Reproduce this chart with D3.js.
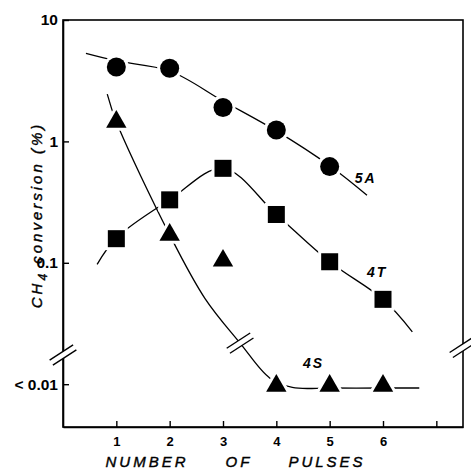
<!DOCTYPE html>
<html>
<head>
<meta charset="utf-8">
<script src="https://cdn.jsdelivr.net/npm/d3@7"></script>
<style>
body { margin: 0; background: #fff; }
svg { display: block; font-family: "Liberation Sans", Arial, sans-serif; }
</style>
</head>
<body>
<svg width="471" height="470"></svg>
<script>
// Measured points, by number of pulses.
var pulses = [1, 2, 3, 4, 5, 6];
var conv5A = [4.1, 4.0, 1.9, 1.24, 0.62];
var conv4T = [0.158, 0.33, 0.6, 0.25, 0.102, 0.05];
var conv4S = [1.45, 0.17, 0.104, 0.0097, 0.0097, 0.0097];

// Hand-drawn fit curves, [pulses, conversion].
var fit5A = [[0.43, 5.3], [1, 4.6], [2, 3.8], [3, 2.15], [4, 1.22], [5, 0.63], [5.7, 0.36]];
var fit4T = [[0.64, 0.097], [1, 0.16], [2, 0.33], [3, 0.6], [4, 0.25], [5, 0.102], [6, 0.05], [6.55, 0.027]];
var fit4S = [[0.83, 2.45], [1, 1.45], [2, 0.17], [2.66, 0.051], [3.32, 0.0218], [3.88, 0.0112], [4.3, 0.0094], [5, 0.0093], [6, 0.0093], [6.68, 0.0093]];

var seriesNames = ["5A", "4T", "4S"];

var yTicks = [10, 1, 0.1, 0.01];
var yTickLabels = ["10", "1", "0.1", "<\u00a00.01"];
var xTicks = [1, 2, 3, 4, 5, 6, 7];
var xTickLabels = ["1", "2", "3", "4", "5", "6", ""];

var svg = d3.select("svg");

var x = d3.scaleLinear().domain([0, 7.5]).range([63, 463]);
var y = d3.scaleLog().domain([0.00444, 10]).range([427, 20]);

// Frame.
svg.append("rect")
    .attr("x", x(0))
    .attr("y", y(10))
    .attr("width", x(7.5) - x(0))
    .attr("height", y(0.00444) - y(10))
    .attr("fill", "none")
    .attr("stroke", "#000")
    .attr("stroke-width", 1.6);

var yAxis = d3.axisLeft(y)
    .tickValues(yTicks)
    .tickFormat(function(d, i) { return yTickLabels[i]; })
    .tickSizeInner(-6)
    .tickSizeOuter(0)
    .tickPadding(5);

var yg = svg.append("g")
    .attr("transform", "translate(" + x(0) + ",0)")
    .call(yAxis);

var xAxis = d3.axisBottom(x)
    .tickValues(xTicks)
    .tickFormat(function(d, i) { return xTickLabels[i]; })
    .tickSizeInner(-6)
    .tickSizeOuter(0)
    .tickPadding(10);

var xg = svg.append("g")
    .attr("transform", "translate(0," + y(0.00444) + ")")
    .call(xAxis);

[yg, xg].forEach(function(g) {
    g.select(".domain").attr("stroke-width", 1.6);
    g.selectAll(".tick line").attr("stroke-width", 1.4);
    g.selectAll(".tick text")
        .attr("font-weight", "bold")
        .attr("fill", "#000");
});
yg.selectAll(".tick text").attr("font-size", 15.5);
xg.selectAll(".tick text").attr("font-size", 13);

// Fit curves.
var line = d3.line()
    .x(function(d) { return x(d[0]); })
    .y(function(d) { return y(d[1]); })
    .curve(d3.curveCatmullRom.alpha(0.5));

[fit5A, fit4T, fit4S].forEach(function(fit) {
    svg.append("path")
        .attr("d", line(fit))
        .attr("fill", "none")
        .attr("stroke", "#000")
        .attr("stroke-width", 1.3);
});

// Break marks: a white gap with two slanted strokes.
function drawBreak(cx, cy) {
    var g = svg.append("g").attr("transform", "translate(" + cx + "," + cy + ") rotate(-33)");
    g.append("rect")
        .attr("x", -13).attr("y", -3)
        .attr("width", 26).attr("height", 6)
        .attr("fill", "#fff");
    [-3, 3].forEach(function(off) {
        g.append("line")
            .attr("x1", -14).attr("x2", 14)
            .attr("y1", off).attr("y2", off)
            .attr("stroke", "#000")
            .attr("stroke-width", 1.4);
    });
}

drawBreak(x(0), y(0.0174));
drawBreak(x(7.5), y(0.0201));
drawBreak(x(3.32), y(0.0218));

// Markers, with a white halo so the curves stop short of them.
function halo(sel) {
    return sel.attr("fill", "#000")
        .attr("stroke", "#fff")
        .attr("stroke-width", 6)
        .style("paint-order", "stroke");
}

halo(svg.append("g").selectAll("circle")
    .data(conv5A)
    .join("circle")
    .attr("cx", function(d, i) { return x(pulses[i]); })
    .attr("cy", function(d) { return y(d); })
    .attr("r", 9.5));

halo(svg.append("g").selectAll("rect")
    .data(conv4T)
    .join("rect")
    .attr("x", function(d, i) { return x(pulses[i]) - 8.5; })
    .attr("y", function(d) { return y(d) - 8.5; })
    .attr("width", 17)
    .attr("height", 17));

var tri = d3.symbol().type(d3.symbolTriangle).size(180);
halo(svg.append("g").selectAll("path")
    .data(conv4S)
    .join("path")
    .attr("d", tri)
    .attr("transform", function(d, i) {
        return "translate(" + x(pulses[i]) + "," + y(d) + ")";
    }));

// Series labels, anchored in data space.
var labelAt = { "5A": [5.47, 0.45], "4T": [5.7, 0.076], "4S": [4.5, 0.0136] };
seriesNames.forEach(function(name) {
    svg.append("text")
        .attr("x", x(labelAt[name][0]))
        .attr("y", y(labelAt[name][1]))
        .attr("font-size", 14)
        .attr("font-weight", "bold")
        .attr("font-style", "italic")
        .attr("letter-spacing", 2)
        .text(name);
});

// Axis titles.
var xTitle = [["NUMBER", 147], ["OF", 239], ["PULSES", 327]];
xTitle.forEach(function(w) {
    svg.append("text")
        .attr("x", w[1])
        .attr("y", 467)
        .attr("text-anchor", "middle")
        .attr("font-size", 15)
        .attr("font-style", "italic")
        .attr("stroke", "#000")
        .attr("stroke-width", 0.4)
        .attr("letter-spacing", 3)
        .text(w[0]);
});

var yTitle = svg.append("text")
    .attr("transform", "translate(42,215) rotate(-90)")
    .attr("text-anchor", "middle")
    .attr("font-size", 15)
    .attr("font-style", "italic")
    .attr("stroke", "#000")
    .attr("stroke-width", 0.4)
    .attr("letter-spacing", 3);
yTitle.append("tspan").text("CH");
yTitle.append("tspan").attr("dy", 5).attr("font-size", 12).text("4");
yTitle.append("tspan").attr("dy", -5).text(" conversion (%)");
</script>
</body>
</html>
